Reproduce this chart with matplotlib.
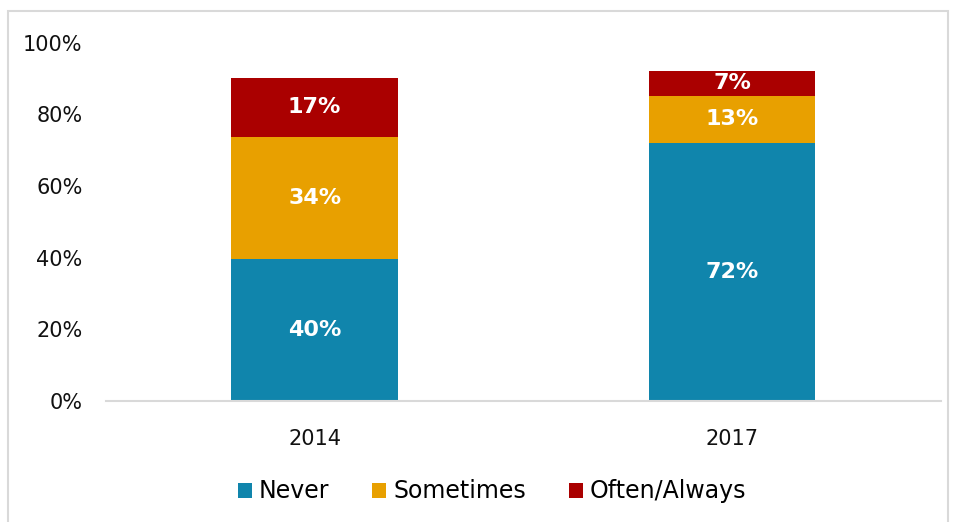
import numpy as np
import matplotlib.pyplot as plt
from matplotlib.patches import Rectangle

years = ["2014", "2017"]
series = ["Never", "Sometimes", "Often/Always"]
never = [39.7, 72.1]
sometimes = [34.0, 13.1]
often = [16.5, 7.0]
never_lbl = ["40%", "72%"]
sometimes_lbl = ["34%", "13%"]
often_lbl = ["17%", "7%"]
colors = ["#1085AC", "#E8A000", "#AA0000"]

plt.rcParams['font.family'] = ['DejaVu Sans']

fig = plt.figure(figsize=(9.55, 5.22), dpi=100)
ax = fig.add_axes([0.111, 0.232, 0.874, 0.686])

x = np.arange(len(years))
bottom = np.zeros(len(years))
for vals, lbls, col, name in zip([never, sometimes, often],
                                 [never_lbl, sometimes_lbl, often_lbl],
                                 colors, series):
    bars = ax.bar(x, vals, 0.4, bottom=bottom, color=col, label=name)
    ax.bar_label(bars, labels=lbls, label_type="center", color="white",
                 fontsize=16, fontweight="bold")
    bottom += np.array(vals)

ax.set_xlim(-0.5, 1.5)
ax.set_ylim(0, 100)
ax.set_yticks(range(0, 101, 20))
ax.set_yticklabels([f"{v}%" for v in range(0, 101, 20)])
ax.set_xticks(x)
ax.set_xticklabels(years)
ax.tick_params(axis="both", length=0, labelsize=15, colors="#111111")
ax.tick_params(axis="x", pad=20)
ax.tick_params(axis="y", pad=17)
for s in ["top", "right", "left"]:
    ax.spines[s].set_visible(False)
ax.spines["bottom"].set_color("#D9D9D9")
ax.spines["bottom"].set_linewidth(1.5)

ax.legend(loc="upper center", bbox_to_anchor=(0.4625, -0.16), ncol=3,
          frameon=False, fontsize=17, handlelength=0.6, handleheight=0.6,
          handletextpad=0.3, columnspacing=1.8)

# light border around the chart area
fig.patches.append(Rectangle((0.008, -0.05), 0.985, 1.028, transform=fig.transFigure,
                             fill=False, edgecolor="#D9D9D9", linewidth=1.5))

fig.savefig("out.png", dpi=100)
